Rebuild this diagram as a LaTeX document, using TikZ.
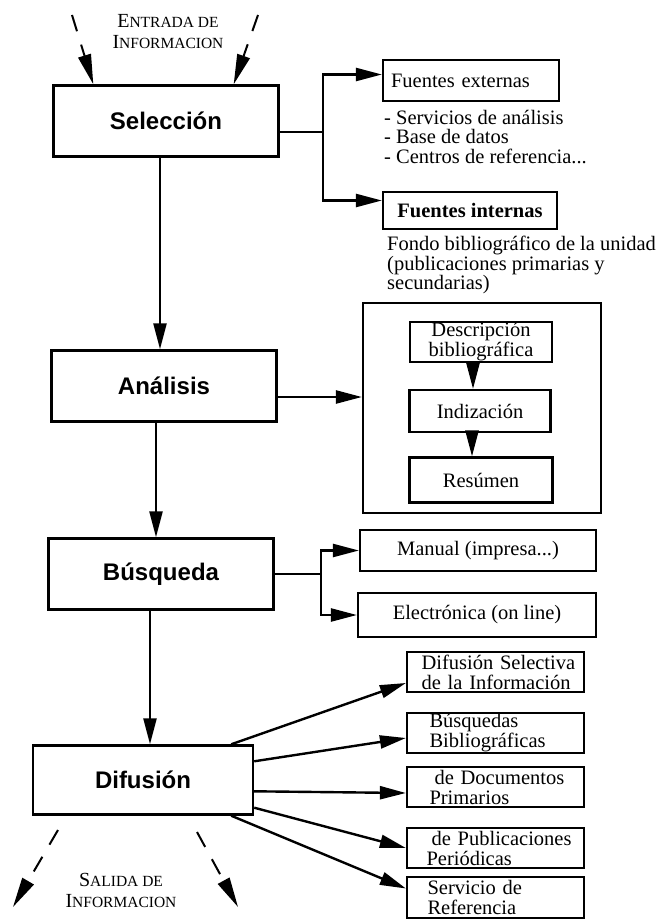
\documentclass[tikz,border=0pt]{standalone}
\usepackage{fontspec}
\newfontfamily\hsans{Liberation Sans}
\newfontfamily\hserif{Liberation Serif}
\newcommand{\mayus}{\fontsize{20}{21}\selectfont}
\newcommand{\versal}{\fontsize{15.5}{21}\selectfont}
\usetikzlibrary{arrows.meta}

\tikzset{
  etapa/.style={draw, line width=2.4pt, minimum width=225pt, minimum height=71pt, font=\hsans\bfseries\fontsize{24}{28}\selectfont},
  caja/.style={draw, line width=2.2pt, inner ysep=0pt, align=center, font=\hserif\fontsize{20.5}{20}\selectfont},
  difbox/.style={caja, align=left, text width=160pt, inner xsep=8.5pt, minimum height=40pt},
  lista/.style={inner sep=0pt, align=left, font=\hserif\fontsize{20.5}{19.5}\selectfont},
  rotulo/.style={align=center, font=\hserif\fontsize{15.5}{21}\selectfont},
  linea/.style={line width=2.4pt},
  flecha/.style={linea, -{Triangle[length=26pt,width=13pt]}},
  discontinua/.style={line width=2pt, dash pattern=on 17pt off 14pt, -{Triangle[length=30pt,width=13pt]}}
}

\begin{document}
\begin{tikzpicture}[x=1pt, y=-1pt]
  \useasboundingbox (0,0) rectangle (666,920);
  % etapas principales
  \node[etapa] (sel) at (166,121) {Selección};
  \node[etapa] (ana) at (164,386) {Análisis};
  \node[etapa] (bus) at (161,574) {Búsqueda};
  \node[etapa, minimum width=220pt, minimum height=69pt] (dif) at (143,780) {Difusión};
  \draw[flecha] ([xshift=-6pt]sel.south) -- ([xshift=-6pt]sel.south |- ana.north);
  \draw[flecha] ([xshift=-8pt]ana.south) -- ([xshift=-8pt]ana.south |- bus.north);
  \draw[flecha] ([xshift=-11pt]bus.south) -- ([xshift=-11pt]bus.south |- dif.north);

  % entrada
  \node[rotulo] (ent) at (168,32) {{\mayus E}{\versal NTRADA DE}\\{\mayus I}{\versal NFORMACION}};
  \coordinate (ent1) at (72,15);
  \coordinate (ent2) at (258,15);
  \draw[discontinua] (ent1) -- ([xshift=41pt]sel.north west);
  \draw[discontinua] (ent2) -- ([xshift=-46pt]sel.north east);

  % seleccion
  \node[caja, align=left, text width=160pt, inner xsep=8pt, minimum height=41pt] (fext) at (471,80.5) {Fuentes externas};
  \node[lista, anchor=north west] (serv) at (384,110) {- Servicios de análisis\\- Base de datos\\- Centros de referencia...};
  \node[caja, minimum width=174pt, minimum height=37pt] (fint) at (470,210.5) {\bfseries Fuentes internas};
  \node[lista, anchor=north west] (fondo) at (387,236) {Fondo bibliográfico de la unidad\\(publicaciones primarias y\\secundarias)};
  \draw[linea] ([yshift=-11pt]sel.east) -- ++(43,0) coordinate (selj);
  \draw[flecha] (selj) |- ([yshift=6pt]fext.west);
  \draw[flecha] (selj) |- ([yshift=10pt]fint.west);

  % analisis
  \node[draw, line width=2.2pt, minimum width=238pt, minimum height=210pt] (anbox) at (482,408) {};
  \node[caja, minimum width=142pt, minimum height=40pt] (desc) at (481,342) {Descripción\\bibliográfica};
  \node[caja, minimum width=141pt, minimum height=42pt] (ind) at (480,411) {Indización};
  \node[caja, minimum width=143pt, minimum height=45pt] (res) at (481,480) {Resúmen};
  \draw[flecha] ([yshift=-11pt]ana.east) -- ([yshift=-11pt]ana.east -| anbox.west);
  \draw[flecha] ([xshift=-8pt]desc.south) -- ([xshift=-8pt]desc.south |- ind.north);
  \draw[flecha] ([xshift=-8pt]ind.south) -- ([xshift=-8pt]ind.south |- res.north);

  % busqueda
  \node[caja, minimum width=236pt, minimum height=41pt] (man) at (478,550.5) {Manual (impresa...)};
  \node[caja, minimum width=238pt, minimum height=44pt] (ele) at (477,615) {Electrónica (on line)};
  \draw[linea] (bus.east) -- ++(46,0) coordinate (busj);
  \draw[flecha] (busj) |- (man.west);
  \draw[flecha] (busj) |- (ele.west);

  % difusion
  \node[difbox] (dsi) at (495.5,672) {\hspace*{6pt}Difusión Selectiva\\\hspace*{6pt}de la Información};
  \node[difbox] (bbib) at (495.5,733) {\hspace*{14pt}Búsquedas\\\hspace*{14pt}Bibliográficas};
  \node[difbox] (dprim) at (495.5,787) {\hspace*{19pt}de Documentos\\\hspace*{14pt}Primarios};
  \node[difbox] (dper) at (495.5,848) {\hspace*{16pt}de Publicaciones\\\hspace*{11pt}Periódicas};
  \node[difbox, minimum height=41pt] (sref) at (495.5,897.5) {\hspace*{12pt}Servicio de\\\hspace*{12pt}Referencia};
  \draw[flecha] ([xshift=-23pt]dif.north east) -- ([yshift=-11pt]dsi.west);
  \draw[flecha] ([yshift=-17pt]dif.north east) -- ([yshift=-5pt]bbib.west);
  \draw[flecha] ([yshift=-47pt]dif.north east) -- ([yshift=-6pt]dprim.west);
  \draw[flecha] ([yshift=8pt]dif.south east) -- (dper.west);
  \draw[flecha] ([xshift=-23pt]dif.south east) -- ([yshift=9pt]sref.west);

  % salida
  \node[rotulo] (sal) at (121,890) {{\mayus S}{\versal ALIDA DE}\\{\mayus I}{\versal NFORMACION}};
  \coordinate (sal1a) at (58,830);
  \coordinate (sal1b) at (13,907);
  \coordinate (sal2a) at (197,832);
  \coordinate (sal2b) at (238,907);
  \draw[discontinua] (sal1a) -- (sal1b);
  \draw[discontinua] (sal2a) -- (sal2b);
\end{tikzpicture}
\end{document}
